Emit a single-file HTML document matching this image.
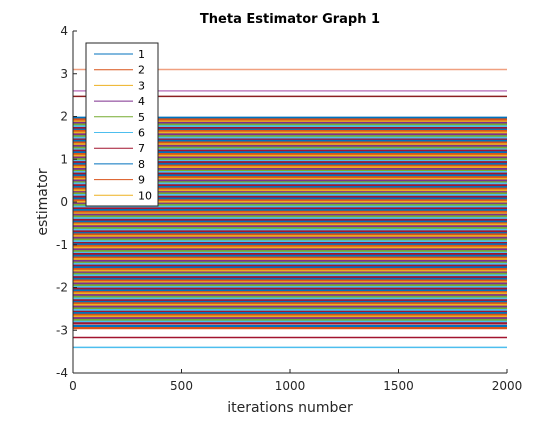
<!DOCTYPE html>
<html><head><meta charset="utf-8"><style>
body{margin:0;background:#fff;}
svg text{font-family:"DejaVu Sans","Liberation Sans",sans-serif;}
</style></head><body>
<svg id="chart" width="560" height="420" xmlns="http://www.w3.org/2000/svg">
<rect width="560" height="420" fill="#fff"/>
<g id="lines"></g>
<g id="axes"></g>
<text x="290" y="23" text-anchor="middle" font-size="13" font-weight="bold" fill="#000">Theta Estimator Graph 1</text>
<text x="290" y="412" text-anchor="middle" font-size="14" fill="#262626">iterations number</text>
<text transform="translate(47,202) rotate(-90)" text-anchor="middle" font-size="14" fill="#262626">estimator</text>
<g id="legend"></g>
</svg>
<script>
const xTicks=[0,500,1000,1500,2000];
const yTicks=[-4,-3,-2,-1,0,1,2,3,4];
const seriesValues=[1.97,1.93,1.88,1.85,1.81,1.77,1.73,1.69,1.66,1.62,1.58,1.54,1.5,1.46,1.43,1.39,1.35,1.31,1.27,1.23,1.2,1.16,1.12,1.08,1.04,1.0,0.96,0.93,0.89,0.85,0.81,0.77,0.73,0.7,0.66,0.62,0.58,0.54,0.5,0.46,0.43,0.39,0.35,0.31,0.27,0.23,0.2,0.16,0.12,0.08,0.04,0.0,-0.04,-0.07,-0.11,-0.15,-0.19,-0.23,-0.27,-0.3,-0.34,-0.38,-0.42,-0.46,-0.5,-0.53,-0.57,-0.61,-0.65,-0.69,-0.73,-0.76,-0.8,-0.84,-0.88,-0.92,-0.96,-0.99,-1.03,-1.07,-1.11,-1.15,-1.19,-1.22,-1.26,-1.3,-1.34,-1.38,-1.42,-1.45,-1.49,-1.53,-1.57,-1.61,-1.65,-1.68,-1.72,-1.76,-1.8,-1.84,-1.88,-1.91,-1.95,-1.99,-2.03,-2.07,-2.11,-2.14,-2.18,-2.22,-2.26,-2.3,-2.34,-2.37,-2.41,-2.45,-2.49,-2.53,-2.57,-2.6,-2.64,-2.68,-2.72,-2.76,-2.8,-2.84,-2.9,-2.95,3.1,2.6,2.47,-3.17,-3.4];
const legendLabels=["1","2","3","4","5","6","7","8","9","10"];
const colors=["#0072BD","#D95319","#EDB120","#7E2F8E","#77AC30","#4DBEEE","#A2142F"];
const special={ "3.1":"#F0A080","2.6":"#C080C0","2.47":"#8B2020","-3.17":"#A2142F","-3.4":"#4DBEEE"};
const X0=73,X1=507,Y4=31,Ym4=373;
const xs=v=>X0+(v-0)/(2000-0)*(X1-X0);
const ys=v=>Ym4-(v+4)/8*(Ym4-Y4);
const NS="http://www.w3.org/2000/svg";
function mk(t,a){const e=document.createElementNS(NS,t);for(const k in a)e.setAttribute(k,a[k]);return e;}
const lg=document.getElementById('lines');
seriesValues.forEach((v,i)=>{
 const c=special[String(v)]||colors[i%7];
 const l=mk('line',{x1:xs(0),x2:xs(2000),y1:ys(v),y2:ys(v),stroke:c,'stroke-width':special[String(v)]?1.5:2.2});
 
 
 lg.appendChild(l);
});
const ax=document.getElementById('axes');
ax.appendChild(mk('line',{x1:X0,x2:X0,y1:Y4,y2:Ym4,stroke:'#262626','stroke-width':1}));
ax.appendChild(mk('line',{x1:X0,x2:X1,y1:Ym4,y2:Ym4,stroke:'#262626','stroke-width':1}));
yTicks.forEach(t=>{
 ax.appendChild(mk('line',{x1:X0,x2:X0+4,y1:ys(t),y2:ys(t),stroke:'#262626'}));
 const tx=mk('text',{x:X0-5,y:ys(t)+4,'text-anchor':'end','font-size':12,fill:'#262626'});
 tx.textContent=t;
 
 
 ax.appendChild(tx);
});
xTicks.forEach(t=>{
 ax.appendChild(mk('line',{x1:xs(t),x2:xs(t),y1:Ym4,y2:Ym4-4,stroke:'#262626'}));
 const tx=mk('text',{x:xs(t),y:Ym4+17,'text-anchor':'middle','font-size':12,fill:'#262626'});
 tx.textContent=t;
 
 
 ax.appendChild(tx);
});
const lgd=document.getElementById('legend');
lgd.appendChild(mk('rect',{x:86,y:43,width:72,height:163,fill:'#fff',stroke:'#262626','stroke-width':1}));
legendLabels.forEach((s,i)=>{
 const y=54+i*15.7;
 const l=mk('line',{x1:94,x2:133,y1:y,y2:y,stroke:colors[i%7],'stroke-width':1});
 
 
 lgd.appendChild(l);
 const t=mk('text',{x:138,y:y+4,'font-size':11,fill:'#000'});
 t.textContent=s;
 
 
 lgd.appendChild(t);
});
</script>
</body></html>
